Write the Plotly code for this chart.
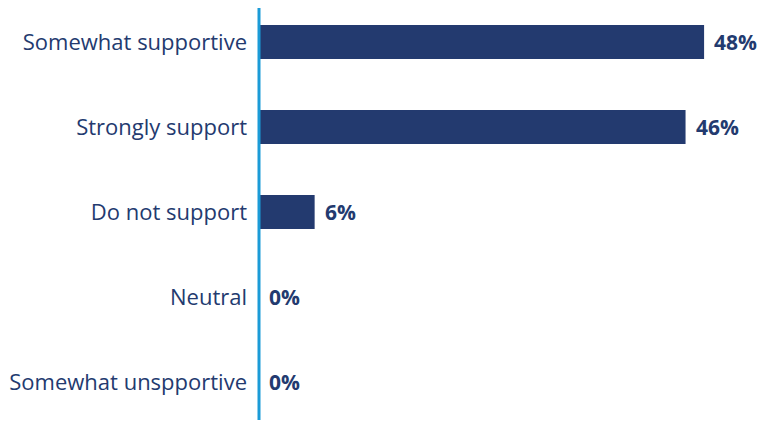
import plotly.graph_objects as go

categories = ["Somewhat supportive", "Strongly support", "Do not support", "Neutral", "Somewhat unspportive"]
values = [48, 46, 6, 0, 0]

navy = "#233a6f"
axis_blue = "#1b9bd7"

fig = go.Figure()
fig.add_trace(go.Bar(
    x=values,
    y=categories,
    orientation="h",
    marker=dict(color=navy, line=dict(width=0)),
    width=0.40,
    hoverinfo="skip",
))

# percentage labels to the right of each bar
annotations = [
    dict(x=v, y=c, xref="x", yref="y", text=f"<b>{v}%</b>", showarrow=False,
         xanchor="left", yanchor="middle", xshift=8,
         font=dict(family="Open Sans", size=21, color=navy))
    for c, v in zip(categories, values)
]

# page body adds an 8px margin, so the figure is 8px smaller than the window
fig.update_layout(
    width=770,
    height=414,
    margin=dict(l=251, r=9, t=0, b=0, autoexpand=False),
    paper_bgcolor="white",
    plot_bgcolor="white",
    showlegend=False,
    annotations=annotations,
    xaxis=dict(range=[0, 55], visible=False, fixedrange=True),
    yaxis=dict(
        range=[4.47, -0.4],
        showline=False,
        showgrid=False,
        zeroline=False,
        ticks="",
        ticklabelstandoff=11,
        tickfont=dict(family="Open Sans", size=22, color=navy),
        fixedrange=True,
    ),
    shapes=[dict(type="line", xref="paper", yref="paper", x0=0, x1=0, y0=0.005, y1=1,
                 line=dict(color=axis_blue, width=3))],
)

fig.write_html("out.html")
